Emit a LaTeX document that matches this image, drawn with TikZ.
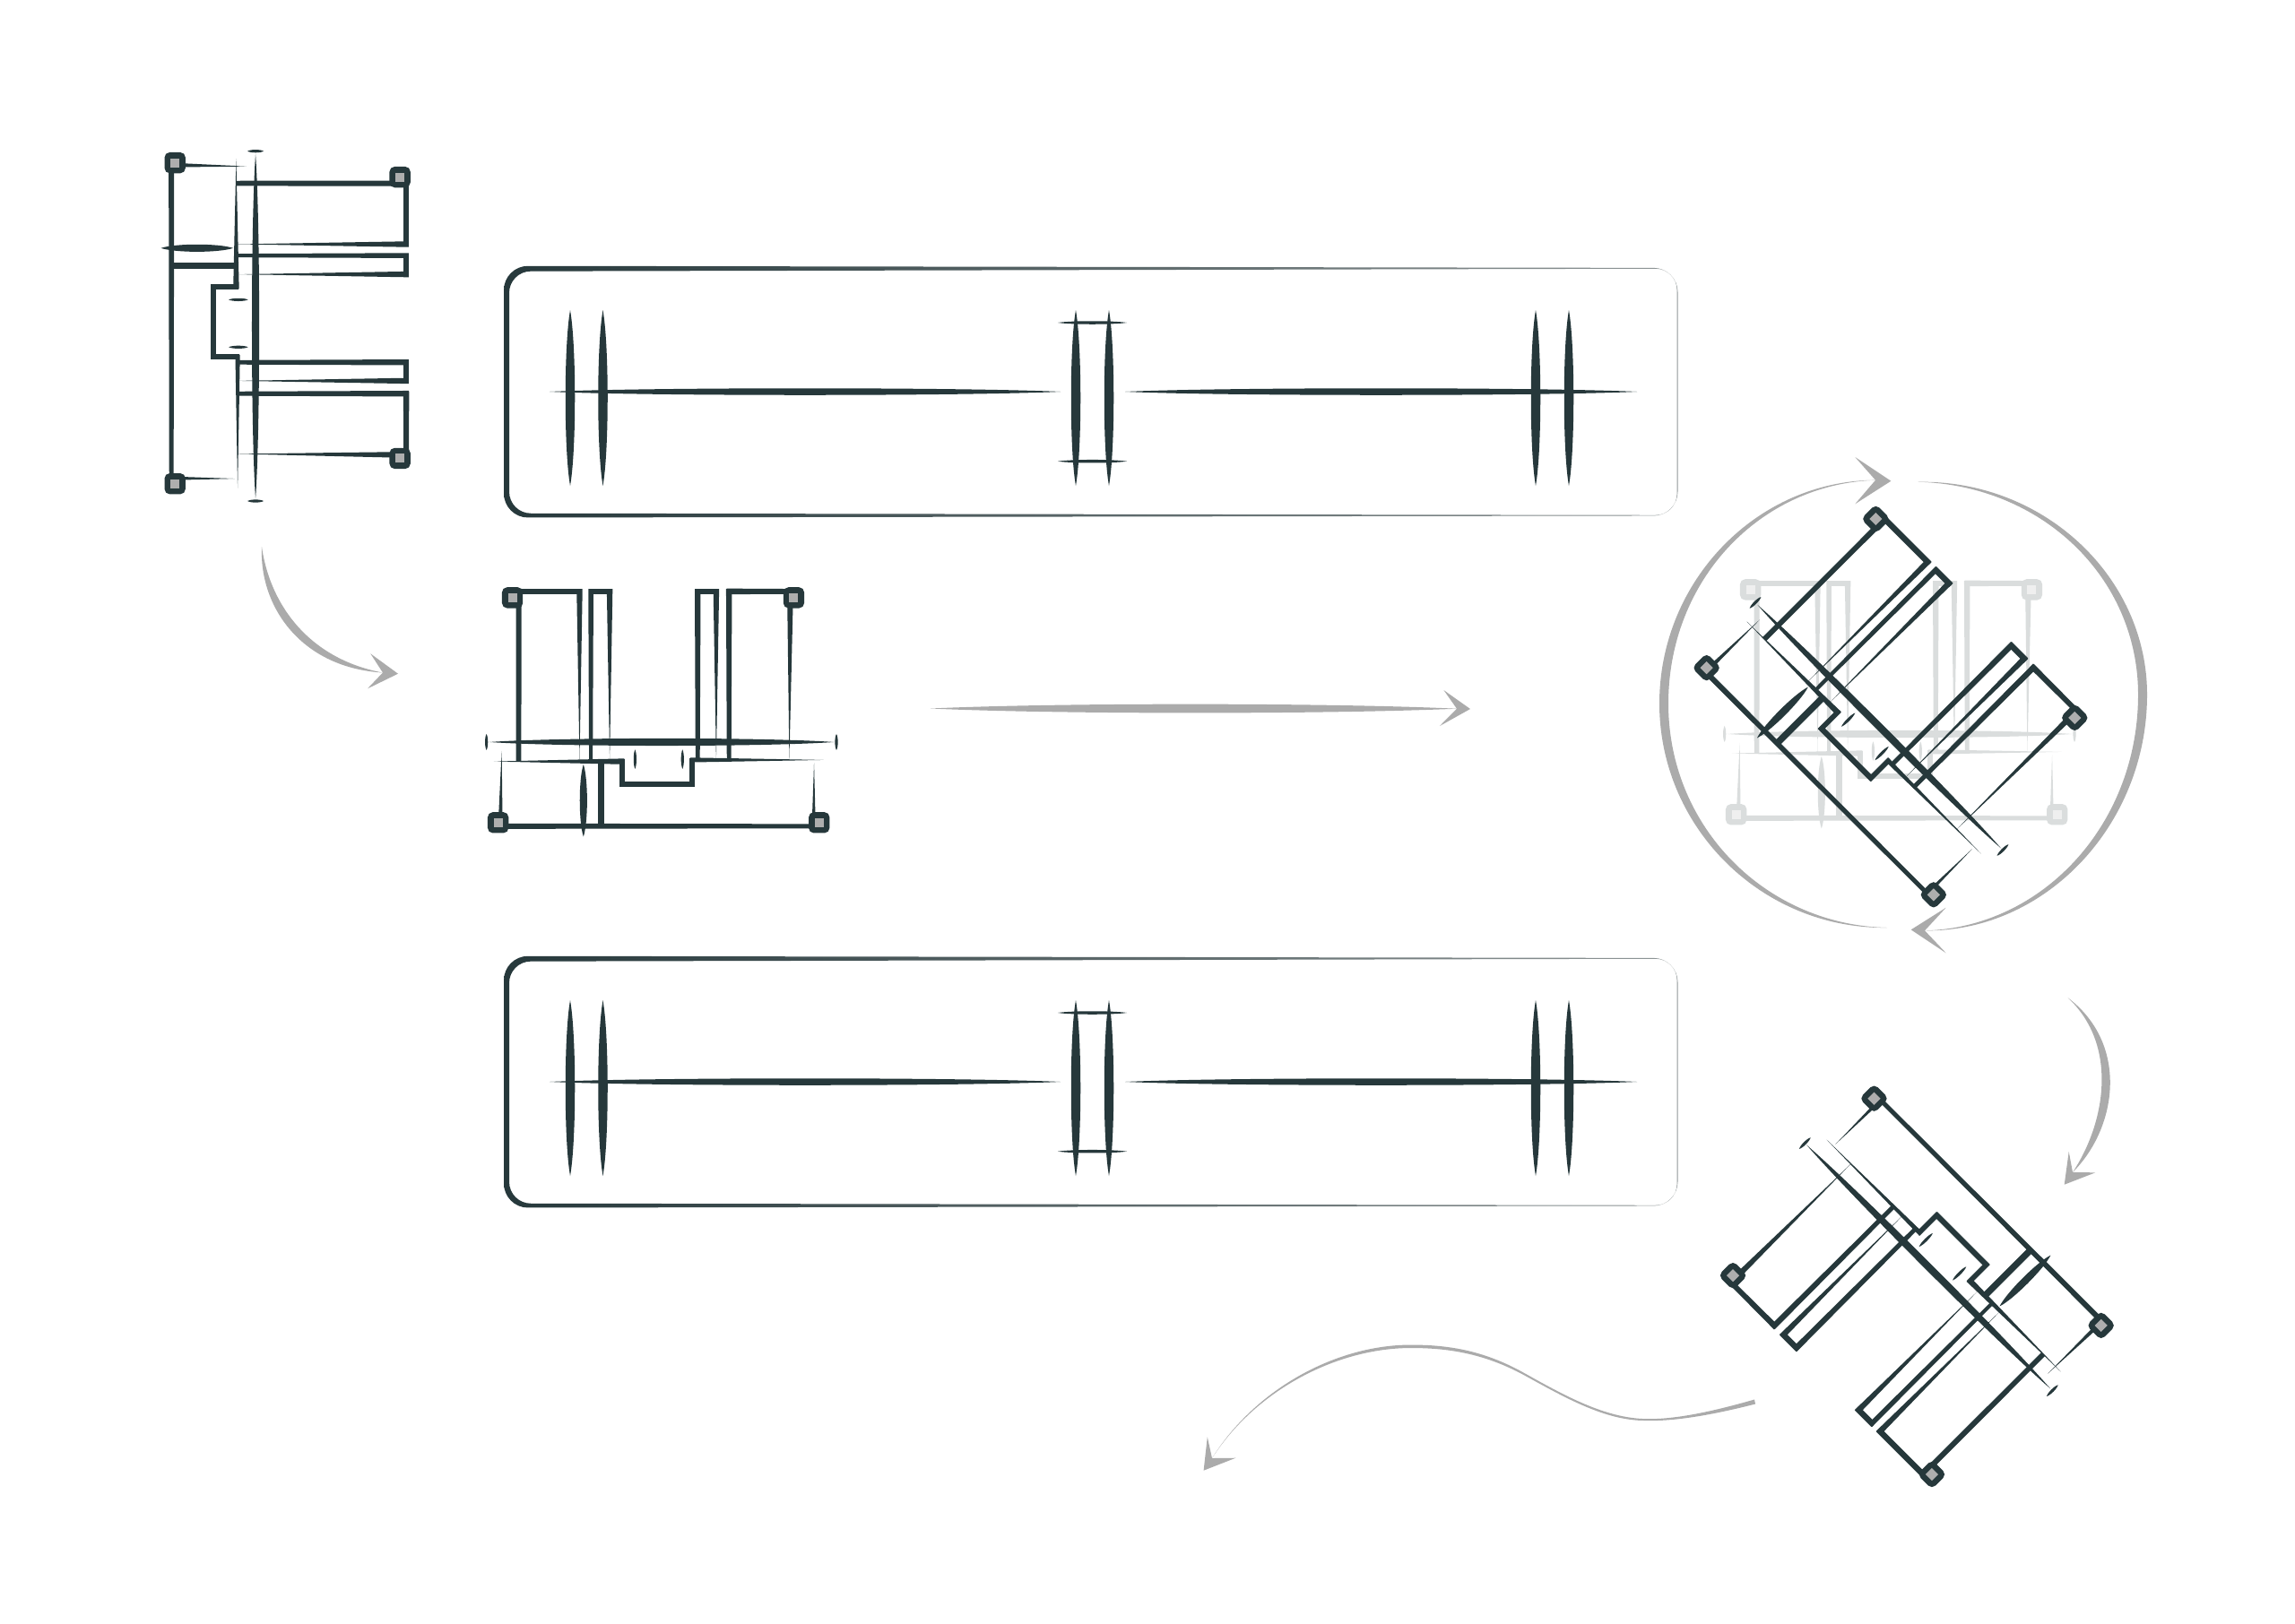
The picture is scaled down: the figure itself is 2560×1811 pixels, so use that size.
\documentclass[tikz,border=0pt]{standalone}
\definecolor{ink}{HTML}{26383B}
\definecolor{cap}{HTML}{AEAEAE}
\definecolor{arrowgrey}{HTML}{ABABAB}
\definecolor{panelend}{HTML}{8F9697}
\colorlet{mink}{ink}
\colorlet{mgrey}{cap}
\def\mywf{1}
% pointed lens: x1 y1 x2 y2 width
\newcommand\slens[5]{%
  \pgfmathsetmacro\myDX{#3-(#1)}\pgfmathsetmacro\myDY{#4-(#2)}%
  \pgfmathsetmacro\myL{veclen(\myDX,\myDY)}%
  \pgfmathsetmacro\myNX{-\myDY/\myL*(#5)*0.667*\mywf}\pgfmathsetmacro\myNY{\myDX/\myL*(#5)*0.667*\mywf}%
  \fill[mink] (#1,#2)
    .. controls ({#1+.2*\myDX+\myNX},{#2+.2*\myDY+\myNY}) and ({#1+.8*\myDX+\myNX},{#2+.8*\myDY+\myNY}) .. (#3,#4)
    .. controls ({#1+.8*\myDX-\myNX},{#2+.8*\myDY-\myNY}) and ({#1+.2*\myDX-\myNX},{#2+.2*\myDY-\myNY}) .. cycle;}
% tapered bar: x1 y1 x2 y2 w1 w2
\newcommand\staper[6]{%
  \pgfmathsetmacro\myDX{#3-(#1)}\pgfmathsetmacro\myDY{#4-(#2)}%
  \pgfmathsetmacro\myL{veclen(\myDX,\myDY)}%
  \pgfmathsetmacro\myUX{-\myDY/\myL*.5*\mywf}\pgfmathsetmacro\myUY{\myDX/\myL*.5*\mywf}%
  \fill[mink] ({#1+\myUX*(#5)},{#2+\myUY*(#5)}) -- ({#3+\myUX*(#6)},{#4+\myUY*(#6)})
     -- ({#3-\myUX*(#6)},{#4-\myUY*(#6)}) -- ({#1-\myUX*(#5)},{#2-\myUY*(#5)}) -- cycle;}
\newcommand\shandle[2]{%
  \fill[mink,rounded corners=1.6pt] ({#1-35},{#2-35}) rectangle ({#1+35},{#2+35});
  \fill[mgrey] ({#1-15},{#2-15}) rectangle ({#1+15},{#2+15});}
% the drawn part, in units of a third of a pixel, about its pivot (510,660)
\newcommand\smotif[3]{%
\begin{scope}[shift={(#1,#2)},rotate=#3,x=0.0033333cm,y=-0.0033333cm,shift={(-510,-660)}]
  \def\mywf{1.22}
  \staper{123}{124}{123}{1200}{15}{12}
  \staper{150}{132}{375}{136}{11}{0}
  \staper{150}{1182}{335}{1183}{9}{0}
  % ladder to the left of the spine
  \staper{340}{110}{340}{547}{0}{16}
  \staper{348}{540}{255}{540}{14}{14}
  \staper{263}{533}{263}{782}{15}{15}
  \staper{256}{775}{352}{775}{14}{14}
  \staper{345}{768}{345}{1215}{13}{0}
  \staper{120}{470}{340}{470}{18}{18}
  % four teeth
  \staper{340}{193}{918}{193}{14}{15}
  \staper{910}{186}{910}{405}{16}{16}
  \staper{918}{397}{345}{397}{16}{0}
  \staper{345}{435}{918}{435}{10}{14}
  \staper{910}{428}{910}{507}{16}{16}
  \staper{918}{498}{350}{498}{16}{0}
  \staper{350}{793}{918}{793}{12}{16}
  \staper{910}{785}{910}{863}{16}{16}
  \staper{918}{855}{345}{855}{16}{0}
  \staper{345}{898}{918}{898}{12}{16}
  \staper{910}{890}{910}{1110}{16}{14}
  \staper{885}{1103}{345}{1100}{16}{0}
  % spine and ticks
  \slens{405}{95}{405}{1250}{20}
  \slens{378}{85}{432}{85}{8}
  \slens{378}{1258}{432}{1258}{8}
  \slens{88}{410}{330}{410}{20}
  \slens{315}{583}{380}{583}{8}
  \slens{315}{742}{380}{742}{8}
  \shandle{135}{124}\shandle{889}{172}\shandle{889}{1115}\shandle{135}{1200}
\end{scope}}
% panel, dy = vertical offset
\newcommand\spanel[1]{%
\begin{scope}[yshift=-#1*0.01cm]
  \shade[even odd rule,left color=ink,middle color=ink,right color=panelend]
    [rounded corners=.27cm] (562,296.7) -- (1871.5,298.9) -- (1871.5,575.4) -- (562,577.5) -- cycle
    [rounded corners=.24cm] (568,302.7) -- (1870.6,299.7) -- (1870.6,574.8) -- (568,572.7) -- cycle;
  \slens{613}{437}{1183}{437}{7.5}
  \slens{1255}{437}{1826}{437}{7.5}
  \slens{636}{346}{636}{542}{10.5}
  \slens{672.5}{346}{672.5}{542}{10.5}
  \slens{1200}{346}{1200}{542}{10.5}
  \slens{1237}{346}{1237}{542}{10.5}
  \slens{1180}{360}{1257}{360}{3.5}
  \slens{1180}{514.7}{1257}{514.7}{3.5}
  \slens{1713}{346}{1713}{542}{10.5}
  \slens{1750}{346}{1750}{542}{10.5}
\end{scope}}
\newcommand\schevron[4]{\fill[arrowgrey] (#1) -- (#2) -- (#3) -- (#4) -- cycle;}
\begin{document}
\begin{tikzpicture}[x=0.01cm,y=-0.01cm]
\useasboundingbox (0,0) rectangle (2560,1811);
\fill[white] (0,0) rectangle (2560,1811);
% arrow end points
\coordinate (aOneTail) at (292,610);
\coordinate (aOneNotch) at (427,750.5);
\coordinate (aOneTip) at (444,751.7);
\coordinate (aTwoTail) at (1038,790.5);
\coordinate (aTwoNotch) at (1625,790.7);
\coordinate (aTwoTip) at (1640,791);
\coordinate (arcLTail) at (2105,1035);
\coordinate (arcLNotch) at (2092,535.7);
\coordinate (arcLTip) at (2109.3,536.7);
\coordinate (arcRTail) at (2139.3,537.7);
\coordinate (arcRNotch) at (2147,1038.3);
\coordinate (arcRTip) at (2131.7,1037.3);
\coordinate (aFourTail) at (2306.7,1113.3);
\coordinate (aFourNotch) at (2312,1308);
\coordinate (aFourTip) at (2302.7,1321.7);
\coordinate (aFiveNotch) at (1352,1627);
\coordinate (aFiveTip) at (1342.6,1640.7);
% panels
\spanel{0}
\spanel{770}
% arrow one
\fill[arrowgrey] (aOneTail) .. controls (301,674) and (344,735) .. (aOneNotch)
   .. controls (336,745) and (289,677) .. cycle;
\schevron{aOneTip}{413.3,729.3}{aOneNotch}{410,768.3}
% arrow two
\fill[arrowgrey] (aTwoTail) .. controls (1180,784) and (1480,784) .. (aTwoNotch)
   .. controls (1480,797) and (1180,797) .. cycle;
\schevron{aTwoTip}{1610.4,770}{aTwoNotch}{1606,810}
% rotating arcs
\fill[arrowgrey] (arcLTail) .. controls (1965,1037) and (1851,923) .. (1851,785)
   .. controls (1851,647.5) and (1960.6,536) .. (arcLNotch)
   .. controls (1963,540) and (1861,647.5) .. (1861,785)
   .. controls (1861,923) and (1970,1032) .. cycle;
\schevron{arcLTip}{2069.3,510}{arcLNotch}{2069.3,562.3}
\fill[arrowgrey] (arcRTail) .. controls (2280,535) and (2395,644) .. (2395,775)
   .. controls (2395,920) and (2282,1040) .. (arcRNotch)
   .. controls (2278,1035) and (2385,920) .. (2385,775)
   .. controls (2385,644) and (2277,541) .. cycle;
\schevron{arcRTip}{2170.7,1012.7}{arcRNotch}{2170.7,1063.3}
% arrow four
\fill[arrowgrey] (aFourTail) .. controls (2375,1165) and (2362,1258) .. (aFourNotch)
   .. controls (2349,1252) and (2363,1166) .. cycle;
\schevron{aFourTip}{2307.7,1285}{aFourNotch}{2337.3,1308.3}
% wave arrow
\fill[arrowgrey] (1957,1561.5) .. controls (1905,1576.5) and (1865,1584) .. (1835,1583.1)
   .. controls (1790,1582) and (1745,1557) .. (1700.5,1532.1)
   .. controls (1655,1506.5) and (1615,1500.5) .. (1574,1500.5)
   .. controls (1490,1500.5) and (1400,1550) .. (aFiveNotch)
   .. controls (1400,1552) and (1490,1504) .. (1574,1504)
   .. controls (1615,1504) and (1655,1510) .. (1699.5,1534)
   .. controls (1745,1559) and (1790,1585) .. (1835,1585)
   .. controls (1865,1586) and (1905,1580) .. (1958,1566.5) -- cycle;
\schevron{aFiveTip}{1346.8,1603.3}{aFiveNotch}{1378.4,1626.7}
% four poses of the part
\smotif{320}{360}{0}
\smotif{734}{793}{90}
\begingroup
\definecolor{mink}{HTML}{DADDDD}\definecolor{mgrey}{HTML}{EFEFEF}
\smotif{2115}{784}{90}
\endgroup
\smotif{2118}{783}{45}
\smotif{2129.3}{1441}{-135}
\end{tikzpicture}
\end{document}
